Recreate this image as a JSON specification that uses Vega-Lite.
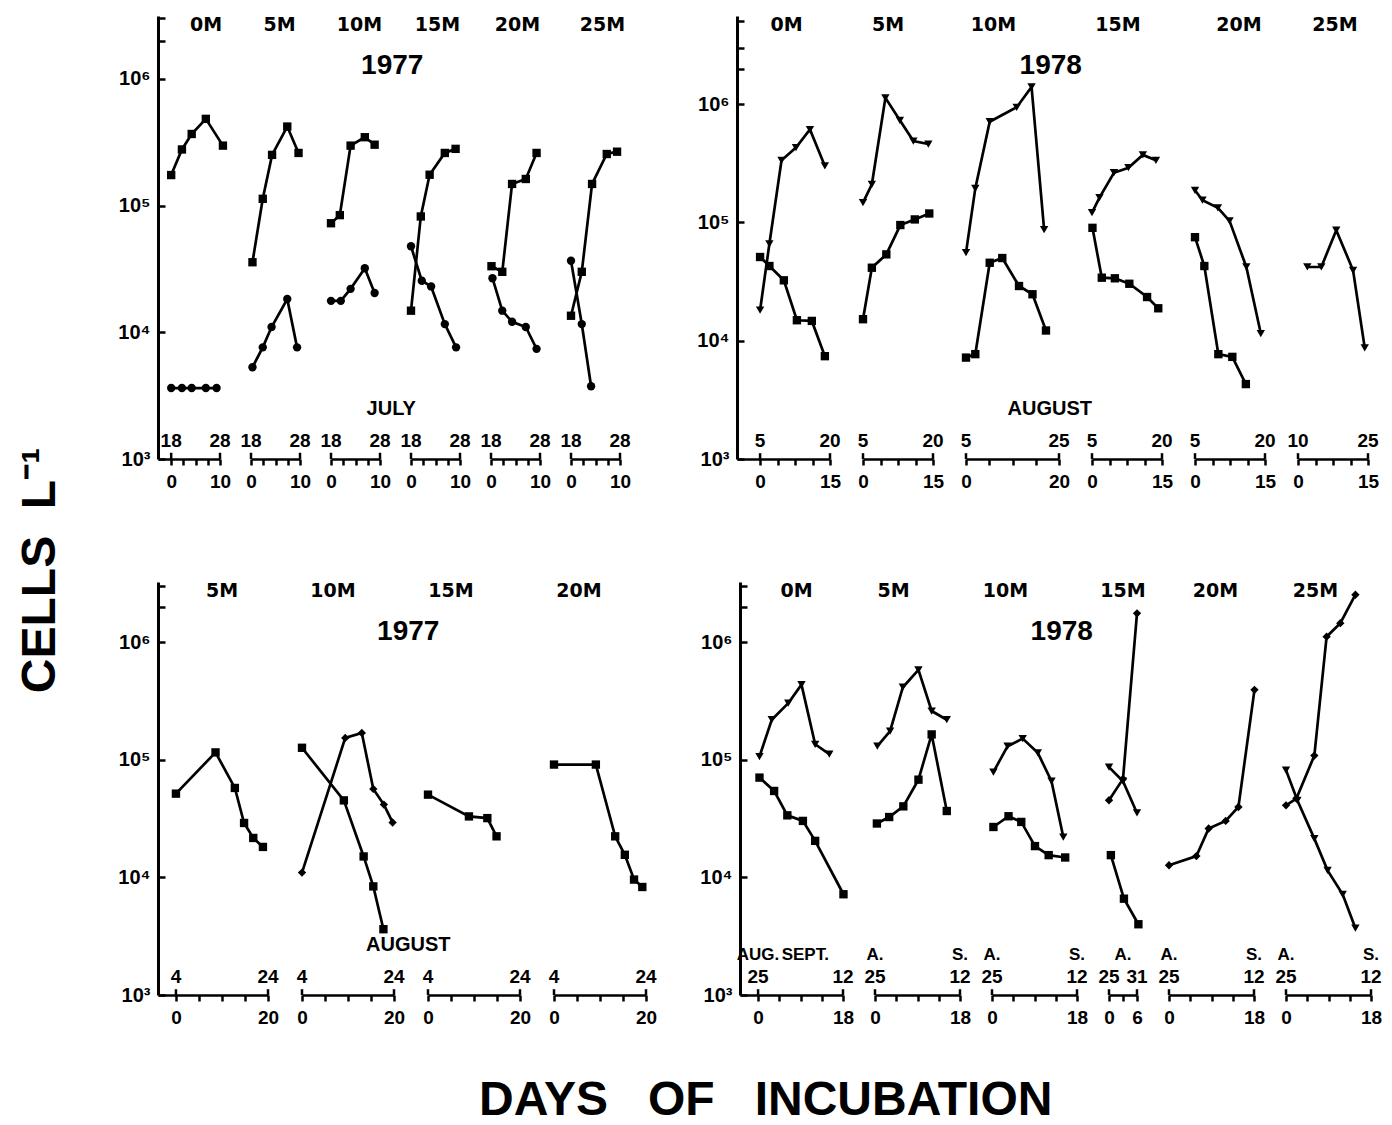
{
"$schema":"https://vega.github.io/schema/vega-lite/v6.json",
"background":"white",
"padding":{"left":16,"top":16,"right":5,"bottom":5},
"title":{"text":"CELLS\u00a0\u00a0L⁻¹","orient":"left","offset":15,"fontSize":48,"font":"Liberation Sans","fontWeight":"bold","frame":"bounds","anchor":"middle","baseline":"alphabetic"},
"datasets":{
"pts":[
{"q":"TL","depth":"0M","taxon":"b","day":0,"cells":174000},{"q":"TL","depth":"0M","taxon":"b","day":2.2,"cells":277000},{"q":"TL","depth":"0M","taxon":"b","day":4.2,"cells":367000},{"q":"TL","depth":"0M","taxon":"b","day":7.1,"cells":483000},{"q":"TL","depth":"0M","taxon":"b","day":10.6,"cells":297000},
{"q":"TL","depth":"0M","taxon":"a","day":0,"cells":3630},{"q":"TL","depth":"0M","taxon":"a","day":2.2,"cells":3630},{"q":"TL","depth":"0M","taxon":"a","day":4.2,"cells":3630},{"q":"TL","depth":"0M","taxon":"a","day":7.1,"cells":3630},{"q":"TL","depth":"0M","taxon":"a","day":9.3,"cells":3630},
{"q":"TL","depth":"5M","taxon":"b","day":0.3,"cells":35700},{"q":"TL","depth":"5M","taxon":"b","day":2.4,"cells":113000},{"q":"TL","depth":"5M","taxon":"b","day":4.3,"cells":251000},{"q":"TL","depth":"5M","taxon":"b","day":7.4,"cells":420000},{"q":"TL","depth":"5M","taxon":"b","day":9.7,"cells":260000},
{"q":"TL","depth":"5M","taxon":"a","day":0.3,"cells":5300},{"q":"TL","depth":"5M","taxon":"a","day":2.4,"cells":7600},{"q":"TL","depth":"5M","taxon":"a","day":4.2,"cells":11000},{"q":"TL","depth":"5M","taxon":"a","day":7.4,"cells":18300},{"q":"TL","depth":"5M","taxon":"a","day":9.4,"cells":7600},
{"q":"TL","depth":"10M","taxon":"b","day":0,"cells":72500},{"q":"TL","depth":"10M","taxon":"b","day":1.8,"cells":84000},{"q":"TL","depth":"10M","taxon":"b","day":4.0,"cells":297000},{"q":"TL","depth":"10M","taxon":"b","day":6.9,"cells":346000},{"q":"TL","depth":"10M","taxon":"b","day":8.9,"cells":302000},
{"q":"TL","depth":"10M","taxon":"a","day":0,"cells":17700},{"q":"TL","depth":"10M","taxon":"a","day":2.0,"cells":17700},{"q":"TL","depth":"10M","taxon":"a","day":4.0,"cells":22000},{"q":"TL","depth":"10M","taxon":"a","day":6.9,"cells":32000},{"q":"TL","depth":"10M","taxon":"a","day":8.9,"cells":20400},
{"q":"TL","depth":"15M","taxon":"b","day":0,"cells":14800},{"q":"TL","depth":"15M","taxon":"b","day":2.0,"cells":82000},{"q":"TL","depth":"15M","taxon":"b","day":3.8,"cells":175000},{"q":"TL","depth":"15M","taxon":"b","day":6.9,"cells":260000},{"q":"TL","depth":"15M","taxon":"b","day":9.1,"cells":280000},
{"q":"TL","depth":"15M","taxon":"a","day":0,"cells":47700},{"q":"TL","depth":"15M","taxon":"a","day":2.2,"cells":25500},{"q":"TL","depth":"15M","taxon":"a","day":4.1,"cells":23000},{"q":"TL","depth":"15M","taxon":"a","day":6.9,"cells":11600},{"q":"TL","depth":"15M","taxon":"a","day":9.2,"cells":7600},
{"q":"TL","depth":"20M","taxon":"b","day":0.1,"cells":33200},{"q":"TL","depth":"20M","taxon":"b","day":2.3,"cells":30000},{"q":"TL","depth":"20M","taxon":"b","day":4.3,"cells":148000},{"q":"TL","depth":"20M","taxon":"b","day":7.1,"cells":162000},{"q":"TL","depth":"20M","taxon":"b","day":9.3,"cells":260000},
{"q":"TL","depth":"20M","taxon":"a","day":0.3,"cells":26700},{"q":"TL","depth":"20M","taxon":"a","day":2.3,"cells":14800},{"q":"TL","depth":"20M","taxon":"a","day":4.3,"cells":12100},{"q":"TL","depth":"20M","taxon":"a","day":7.1,"cells":11000},{"q":"TL","depth":"20M","taxon":"a","day":9.3,"cells":7400},
{"q":"TL","depth":"25M","taxon":"b","day":0,"cells":13500},{"q":"TL","depth":"25M","taxon":"b","day":2.2,"cells":30000},{"q":"TL","depth":"25M","taxon":"b","day":4.3,"cells":148000},{"q":"TL","depth":"25M","taxon":"b","day":7.3,"cells":255000},{"q":"TL","depth":"25M","taxon":"b","day":9.4,"cells":266000},
{"q":"TL","depth":"25M","taxon":"a","day":0,"cells":36700},{"q":"TL","depth":"25M","taxon":"a","day":2.2,"cells":11600},{"q":"TL","depth":"25M","taxon":"a","day":4.1,"cells":3750},
{"q":"TR","depth":"0M","taxon":"c","day":0,"cells":18100},{"q":"TR","depth":"0M","taxon":"c","day":2.0,"cells":66000},{"q":"TR","depth":"0M","taxon":"c","day":4.6,"cells":335000},{"q":"TR","depth":"0M","taxon":"c","day":7.7,"cells":429000},{"q":"TR","depth":"0M","taxon":"c","day":10.7,"cells":610000},{"q":"TR","depth":"0M","taxon":"c","day":13.9,"cells":300000},
{"q":"TR","depth":"0M","taxon":"b","day":0,"cells":51000},{"q":"TR","depth":"0M","taxon":"b","day":2.0,"cells":42800},{"q":"TR","depth":"0M","taxon":"b","day":5.1,"cells":32400},{"q":"TR","depth":"0M","taxon":"b","day":7.9,"cells":14900},{"q":"TR","depth":"0M","taxon":"b","day":11.1,"cells":14700},{"q":"TR","depth":"0M","taxon":"b","day":13.9,"cells":7400},
{"q":"TR","depth":"5M","taxon":"c","day":0,"cells":147000},{"q":"TR","depth":"5M","taxon":"c","day":1.9,"cells":210000},{"q":"TR","depth":"5M","taxon":"c","day":4.8,"cells":1130000},{"q":"TR","depth":"5M","taxon":"c","day":7.9,"cells":730000},{"q":"TR","depth":"5M","taxon":"c","day":10.8,"cells":487000},{"q":"TR","depth":"5M","taxon":"c","day":14.0,"cells":460000},
{"q":"TR","depth":"5M","taxon":"b","day":0,"cells":15200},{"q":"TR","depth":"5M","taxon":"b","day":1.9,"cells":41400},{"q":"TR","depth":"5M","taxon":"b","day":5.0,"cells":53700},{"q":"TR","depth":"5M","taxon":"b","day":8.0,"cells":95000},{"q":"TR","depth":"5M","taxon":"b","day":11.1,"cells":106000},{"q":"TR","depth":"5M","taxon":"b","day":14.2,"cells":119000},
{"q":"TR","depth":"10M","taxon":"c","day":0,"cells":55500},{"q":"TR","depth":"10M","taxon":"c","day":2.0,"cells":194000},{"q":"TR","depth":"10M","taxon":"c","day":5.1,"cells":710000},{"q":"TR","depth":"10M","taxon":"c","day":10.9,"cells":940000},{"q":"TR","depth":"10M","taxon":"c","day":14.1,"cells":1400000},{"q":"TR","depth":"10M","taxon":"c","day":16.8,"cells":87000},
{"q":"TR","depth":"10M","taxon":"b","day":0,"cells":7200},{"q":"TR","depth":"10M","taxon":"b","day":2.0,"cells":7700},{"q":"TR","depth":"10M","taxon":"b","day":5.1,"cells":45600},{"q":"TR","depth":"10M","taxon":"b","day":7.8,"cells":50000},{"q":"TR","depth":"10M","taxon":"b","day":11.4,"cells":29000},{"q":"TR","depth":"10M","taxon":"b","day":14.3,"cells":24700},{"q":"TR","depth":"10M","taxon":"b","day":17.2,"cells":12200},
{"q":"TR","depth":"15M","taxon":"c","day":0,"cells":121000},{"q":"TR","depth":"15M","taxon":"c","day":1.6,"cells":162000},{"q":"TR","depth":"15M","taxon":"c","day":4.7,"cells":263000},{"q":"TR","depth":"15M","taxon":"c","day":7.8,"cells":290000},{"q":"TR","depth":"15M","taxon":"c","day":10.9,"cells":372000},{"q":"TR","depth":"15M","taxon":"c","day":13.7,"cells":335000},
{"q":"TR","depth":"15M","taxon":"b","day":0.1,"cells":90000},{"q":"TR","depth":"15M","taxon":"b","day":2.1,"cells":34100},{"q":"TR","depth":"15M","taxon":"b","day":4.9,"cells":33700},{"q":"TR","depth":"15M","taxon":"b","day":8.0,"cells":30300},{"q":"TR","depth":"15M","taxon":"b","day":11.8,"cells":23400},{"q":"TR","depth":"15M","taxon":"b","day":14.2,"cells":18800},
{"q":"TR","depth":"20M","taxon":"c","day":0,"cells":187000},{"q":"TR","depth":"20M","taxon":"c","day":1.6,"cells":154000},{"q":"TR","depth":"20M","taxon":"c","day":4.9,"cells":133000},{"q":"TR","depth":"20M","taxon":"c","day":7.4,"cells":103000},{"q":"TR","depth":"20M","taxon":"c","day":11.0,"cells":42000},{"q":"TR","depth":"20M","taxon":"c","day":14.1,"cells":11500},
{"q":"TR","depth":"20M","taxon":"b","day":0,"cells":75000},{"q":"TR","depth":"20M","taxon":"b","day":2.0,"cells":42800},{"q":"TR","depth":"20M","taxon":"b","day":5.0,"cells":7700},{"q":"TR","depth":"20M","taxon":"b","day":8.0,"cells":7300},{"q":"TR","depth":"20M","taxon":"b","day":10.9,"cells":4300},
{"q":"TR","depth":"25M","taxon":"c","day":2.0,"cells":42000},{"q":"TR","depth":"25M","taxon":"c","day":5.0,"cells":42000},{"q":"TR","depth":"25M","taxon":"c","day":8.2,"cells":86000},{"q":"TR","depth":"25M","taxon":"c","day":11.8,"cells":39400},{"q":"TR","depth":"25M","taxon":"c","day":14.3,"cells":8700},
{"q":"BL","depth":"5M","taxon":"b","day":0,"cells":51700},{"q":"BL","depth":"5M","taxon":"b","day":8.6,"cells":116000},{"q":"BL","depth":"5M","taxon":"b","day":12.8,"cells":57800},{"q":"BL","depth":"5M","taxon":"b","day":14.8,"cells":29100},{"q":"BL","depth":"5M","taxon":"b","day":16.8,"cells":21700},{"q":"BL","depth":"5M","taxon":"b","day":18.9,"cells":18200},
{"q":"BL","depth":"10M","taxon":"b","day":0,"cells":127000},{"q":"BL","depth":"10M","taxon":"b","day":9.1,"cells":45300},{"q":"BL","depth":"10M","taxon":"b","day":13.4,"cells":15100},{"q":"BL","depth":"10M","taxon":"b","day":15.5,"cells":8400},{"q":"BL","depth":"10M","taxon":"b","day":17.7,"cells":3630},
{"q":"BL","depth":"10M","taxon":"d","day":0,"cells":11000},{"q":"BL","depth":"10M","taxon":"d","day":9.4,"cells":154000},{"q":"BL","depth":"10M","taxon":"d","day":13.0,"cells":170000},{"q":"BL","depth":"10M","taxon":"d","day":15.5,"cells":56700},{"q":"BL","depth":"10M","taxon":"d","day":17.8,"cells":41700},{"q":"BL","depth":"10M","taxon":"d","day":19.7,"cells":29400},
{"q":"BL","depth":"15M","taxon":"b","day":0,"cells":50700},{"q":"BL","depth":"15M","taxon":"b","day":8.9,"cells":33100},{"q":"BL","depth":"15M","taxon":"b","day":12.9,"cells":32000},{"q":"BL","depth":"15M","taxon":"b","day":14.9,"cells":22400},
{"q":"BL","depth":"20M","taxon":"b","day":0,"cells":91400},{"q":"BL","depth":"20M","taxon":"b","day":9.1,"cells":91400},{"q":"BL","depth":"20M","taxon":"b","day":13.3,"cells":22400},{"q":"BL","depth":"20M","taxon":"b","day":15.4,"cells":15600},{"q":"BL","depth":"20M","taxon":"b","day":17.4,"cells":9600},{"q":"BL","depth":"20M","taxon":"b","day":19.2,"cells":8300},
{"q":"BR","depth":"0M","taxon":"c","day":0.3,"cells":107000},{"q":"BR","depth":"0M","taxon":"c","day":2.9,"cells":220000},{"q":"BR","depth":"0M","taxon":"c","day":6.4,"cells":304000},{"q":"BR","depth":"0M","taxon":"c","day":9.2,"cells":438000},{"q":"BR","depth":"0M","taxon":"c","day":12.1,"cells":136000},{"q":"BR","depth":"0M","taxon":"c","day":15.1,"cells":112000},
{"q":"BR","depth":"0M","taxon":"b","day":0.3,"cells":70800},{"q":"BR","depth":"0M","taxon":"b","day":3.4,"cells":54500},{"q":"BR","depth":"0M","taxon":"b","day":6.2,"cells":33800},{"q":"BR","depth":"0M","taxon":"b","day":9.5,"cells":30300},{"q":"BR","depth":"0M","taxon":"b","day":12.1,"cells":20500},{"q":"BR","depth":"0M","taxon":"b","day":18.1,"cells":7200},
{"q":"BR","depth":"5M","taxon":"c","day":0.5,"cells":131000},{"q":"BR","depth":"5M","taxon":"c","day":3.2,"cells":176000},{"q":"BR","depth":"5M","taxon":"c","day":5.9,"cells":416000},{"q":"BR","depth":"5M","taxon":"c","day":9.2,"cells":585000},{"q":"BR","depth":"5M","taxon":"c","day":12.0,"cells":261000},{"q":"BR","depth":"5M","taxon":"c","day":15.2,"cells":220000},
{"q":"BR","depth":"5M","taxon":"b","day":0.4,"cells":28800},{"q":"BR","depth":"5M","taxon":"b","day":3.0,"cells":32700},{"q":"BR","depth":"5M","taxon":"b","day":6.0,"cells":40300},{"q":"BR","depth":"5M","taxon":"b","day":9.2,"cells":68000},{"q":"BR","depth":"5M","taxon":"b","day":12.0,"cells":165000},{"q":"BR","depth":"5M","taxon":"b","day":15.2,"cells":36800},
{"q":"BR","depth":"10M","taxon":"c","day":0.3,"cells":79000},{"q":"BR","depth":"10M","taxon":"c","day":3.3,"cells":131000},{"q":"BR","depth":"10M","taxon":"c","day":6.5,"cells":152000},{"q":"BR","depth":"10M","taxon":"c","day":9.7,"cells":115000},{"q":"BR","depth":"10M","taxon":"c","day":12.6,"cells":66000},{"q":"BR","depth":"10M","taxon":"c","day":15.1,"cells":22100},
{"q":"BR","depth":"10M","taxon":"b","day":0.3,"cells":26900},{"q":"BR","depth":"10M","taxon":"b","day":3.5,"cells":33200},{"q":"BR","depth":"10M","taxon":"b","day":6.2,"cells":29700},{"q":"BR","depth":"10M","taxon":"b","day":9.1,"cells":18500},{"q":"BR","depth":"10M","taxon":"b","day":12.0,"cells":15500},{"q":"BR","depth":"10M","taxon":"b","day":15.5,"cells":14800},
{"q":"BR","depth":"15M","taxon":"c","day":0,"cells":87000},{"q":"BR","depth":"15M","taxon":"c","day":3,"cells":66000},{"q":"BR","depth":"15M","taxon":"c","day":6,"cells":35400},
{"q":"BR","depth":"15M","taxon":"d","day":0,"cells":45400},{"q":"BR","depth":"15M","taxon":"d","day":3,"cells":69000},{"q":"BR","depth":"15M","taxon":"d","day":6,"cells":1770000},
{"q":"BR","depth":"15M","taxon":"b","day":0.4,"cells":15500},{"q":"BR","depth":"15M","taxon":"b","day":3.2,"cells":6600},{"q":"BR","depth":"15M","taxon":"b","day":6.3,"cells":4000},
{"q":"BR","depth":"20M","taxon":"d","day":0,"cells":12700},{"q":"BR","depth":"20M","taxon":"d","day":5.8,"cells":15200},{"q":"BR","depth":"20M","taxon":"d","day":8.4,"cells":26100},{"q":"BR","depth":"20M","taxon":"d","day":12,"cells":30300},{"q":"BR","depth":"20M","taxon":"d","day":14.7,"cells":39800},{"q":"BR","depth":"20M","taxon":"d","day":18.1,"cells":395000},
{"q":"BR","depth":"25M","taxon":"d","day":0,"cells":41100},{"q":"BR","depth":"25M","taxon":"d","day":2.2,"cells":46900},{"q":"BR","depth":"25M","taxon":"d","day":6.0,"cells":109000},{"q":"BR","depth":"25M","taxon":"d","day":8.6,"cells":1120000},{"q":"BR","depth":"25M","taxon":"d","day":11.5,"cells":1460000},{"q":"BR","depth":"25M","taxon":"d","day":14.7,"cells":2550000},
{"q":"BR","depth":"25M","taxon":"c","day":0,"cells":82000},{"q":"BR","depth":"25M","taxon":"c","day":2.4,"cells":45400},{"q":"BR","depth":"25M","taxon":"c","day":6.0,"cells":21400},{"q":"BR","depth":"25M","taxon":"c","day":8.8,"cells":11500},{"q":"BR","depth":"25M","taxon":"c","day":12.0,"cells":7200},{"q":"BR","depth":"25M","taxon":"c","day":14.7,"cells":3700}
],
"dates":[
{"q":"TL","depth":"0M","day":0,"label":"18"},{"q":"TL","depth":"0M","day":10,"label":"28"},
{"q":"TL","depth":"5M","day":0,"label":"18"},{"q":"TL","depth":"5M","day":10,"label":"28"},
{"q":"TL","depth":"10M","day":0,"label":"18"},{"q":"TL","depth":"10M","day":10,"label":"28"},
{"q":"TL","depth":"15M","day":0,"label":"18"},{"q":"TL","depth":"15M","day":10,"label":"28"},
{"q":"TL","depth":"20M","day":0,"label":"18"},{"q":"TL","depth":"20M","day":10,"label":"28"},
{"q":"TL","depth":"25M","day":0,"label":"18"},{"q":"TL","depth":"25M","day":10,"label":"28"},
{"q":"TR","depth":"0M","day":0,"label":"5"},{"q":"TR","depth":"0M","day":15,"label":"20"},
{"q":"TR","depth":"5M","day":0,"label":"5"},{"q":"TR","depth":"5M","day":15,"label":"20"},
{"q":"TR","depth":"10M","day":0,"label":"5"},{"q":"TR","depth":"10M","day":20,"label":"25"},
{"q":"TR","depth":"15M","day":0,"label":"5"},{"q":"TR","depth":"15M","day":15,"label":"20"},
{"q":"TR","depth":"20M","day":0,"label":"5"},{"q":"TR","depth":"20M","day":15,"label":"20"},
{"q":"TR","depth":"25M","day":0,"label":"10"},{"q":"TR","depth":"25M","day":15,"label":"25"},
{"q":"BL","depth":"5M","day":0,"label":"4"},{"q":"BL","depth":"5M","day":20,"label":"24"},
{"q":"BL","depth":"10M","day":0,"label":"4"},{"q":"BL","depth":"10M","day":20,"label":"24"},
{"q":"BL","depth":"15M","day":0,"label":"4"},{"q":"BL","depth":"15M","day":20,"label":"24"},
{"q":"BL","depth":"20M","day":0,"label":"4"},{"q":"BL","depth":"20M","day":20,"label":"24"},
{"q":"BR","depth":"0M","day":0,"label":"25"},{"q":"BR","depth":"0M","day":18,"label":"12"},
{"q":"BR","depth":"5M","day":0,"label":"25"},{"q":"BR","depth":"5M","day":18,"label":"12"},
{"q":"BR","depth":"10M","day":0,"label":"25"},{"q":"BR","depth":"10M","day":18,"label":"12"},
{"q":"BR","depth":"15M","day":0,"label":"25"},{"q":"BR","depth":"15M","day":6,"label":"31"},
{"q":"BR","depth":"20M","day":0,"label":"25"},{"q":"BR","depth":"20M","day":18,"label":"12"},
{"q":"BR","depth":"25M","day":0,"label":"25"},{"q":"BR","depth":"25M","day":18,"label":"12"}
],
"months":[
{"q":"BR","depth":"0M","day":0,"label":"AUG."},{"q":"BR","depth":"0M","day":10,"label":"SEPT."},
{"q":"BR","depth":"5M","day":0,"label":"A."},{"q":"BR","depth":"5M","day":18,"label":"S."},
{"q":"BR","depth":"10M","day":0,"label":"A."},{"q":"BR","depth":"10M","day":18,"label":"S."},
{"q":"BR","depth":"15M","day":3,"label":"A."},
{"q":"BR","depth":"20M","day":0,"label":"A."},{"q":"BR","depth":"20M","day":18,"label":"S."},
{"q":"BR","depth":"25M","day":0,"label":"A."},{"q":"BR","depth":"25M","day":18,"label":"S."}
]
},
"hconcat":[{
"title":{"text":"DAYS\u00a0\u00a0\u00a0OF\u00a0\u00a0\u00a0INCUBATION","orient":"bottom","offset":88,"fontSize":48,"font":"Liberation Sans","fontWeight":"bold","frame":"bounds","anchor":"middle","dx":16,"baseline":"alphabetic"},
"spacing":91,
"vconcat":[
{"spacing":65,"hconcat":[
{"title":{"text":"1977","offset":-86,"fontSize":28,"font":"Liberation Sans","frame":"bounds","anchor":"middle","dx":18,"baseline":"alphabetic"},
"hconcat":[{"title":{"text":"JULY","orient":"bottom","offset":-76,"fontSize":20,"font":"Liberation Sans","frame":"bounds","anchor":"middle","dx":17,"baseline":"alphabetic"},
"spacing":31,"bounds":"flush",
"hconcat":[
{"width":62,"height":443,"title":{"text":"0M","dx":17},
"encoding":{"x":{"field":"day","type":"quantitative","scale":{"domain":[-2.7,10],"nice":false,"zero":false},"axis":{"values":[0,2.5,5,7.5,10],"title":null,"labelExpr":"datum.value==0||datum.value==10?datum.label:''"}}},
"layer":[
{"data":{"name":"pts"},"transform":[{"filter":"datum.q=='TL'&&datum.depth=='0M'"}],"mark":{"type":"line","color":"black","strokeWidth":2.7},"encoding":{"y":{"field":"cells","type":"quantitative","scale":{"type":"log","domain":[1000,3130000],"nice":false},"axis":{"values":[1000,10000,100000,1000000,2000000,3000000],"title":null,"labelFontSize":{"condition":{"test":"datum.value>1000000","value":1},"value":20},"labelExpr":"datum.value==1000?'10³':datum.value==10000?'10⁴':datum.value==100000?'10⁵':datum.value==1000000?'10⁶':''"}},"detail":{"field":"taxon"}}},
{"data":{"name":"pts"},"transform":[{"filter":"datum.q=='TL'&&datum.depth=='0M'"}],"mark":{"type":"point","filled":true,"opacity":1,"color":"black","size":70},"encoding":{"y":{"field":"cells","type":"quantitative"},"shape":{"field":"taxon","type":"nominal","scale":{"domain":["a","b","c","d"],"range":["circle","square","triangle-down","diamond"]},"legend":null}}},
{"data":{"name":"dates"},"transform":[{"filter":"datum.q=='TL'&&datum.depth=='0M'"}],"mark":{"type":"text","dy":-12},"encoding":{"y":{"datum":1000},"text":{"field":"label"}}},
{"data":{"name":"dates"},"transform":[{"filter":"datum.q=='TL'&&datum.depth=='0M'"}],"mark":{"type":"rule","color":"black","strokeWidth":2.5},"encoding":{"y":{"datum":1000},"y2":{"datum":1120}}}
]},
{"width":49,"height":443,"title":{"text":"5M","dx":4},
"encoding":{"x":{"field":"day","type":"quantitative","scale":{"domain":[0,10],"nice":false,"zero":false},"axis":{"values":[0,2.5,5,7.5,10],"title":null,"labelExpr":"datum.value==0||datum.value==10?datum.label:''"}}},
"layer":[
{"data":{"name":"pts"},"transform":[{"filter":"datum.q=='TL'&&datum.depth=='5M'"}],"mark":{"type":"line","color":"black","strokeWidth":2.7},"encoding":{"y":{"field":"cells","type":"quantitative","scale":{"type":"log","domain":[1000,3130000],"nice":false},"axis":null},"detail":{"field":"taxon"}}},
{"data":{"name":"pts"},"transform":[{"filter":"datum.q=='TL'&&datum.depth=='5M'"}],"mark":{"type":"point","filled":true,"opacity":1,"color":"black","size":70},"encoding":{"y":{"field":"cells","type":"quantitative"},"shape":{"field":"taxon","type":"nominal","scale":{"domain":["a","b","c","d"],"range":["circle","square","triangle-down","diamond"]},"legend":null}}},
{"data":{"name":"dates"},"transform":[{"filter":"datum.q=='TL'&&datum.depth=='5M'"}],"mark":{"type":"text","dy":-12},"encoding":{"y":{"datum":1000},"text":{"field":"label"}}},
{"data":{"name":"dates"},"transform":[{"filter":"datum.q=='TL'&&datum.depth=='5M'"}],"mark":{"type":"rule","color":"black","strokeWidth":2.5},"encoding":{"y":{"datum":1000},"y2":{"datum":1120}}}
]},
{"width":49,"height":443,"title":{"text":"10M","dx":4},
"encoding":{"x":{"field":"day","type":"quantitative","scale":{"domain":[0,10],"nice":false,"zero":false},"axis":{"values":[0,2.5,5,7.5,10],"title":null,"labelExpr":"datum.value==0||datum.value==10?datum.label:''"}}},
"layer":[
{"data":{"name":"pts"},"transform":[{"filter":"datum.q=='TL'&&datum.depth=='10M'"}],"mark":{"type":"line","color":"black","strokeWidth":2.7},"encoding":{"y":{"field":"cells","type":"quantitative","scale":{"type":"log","domain":[1000,3130000],"nice":false},"axis":null},"detail":{"field":"taxon"}}},
{"data":{"name":"pts"},"transform":[{"filter":"datum.q=='TL'&&datum.depth=='10M'"}],"mark":{"type":"point","filled":true,"opacity":1,"color":"black","size":70},"encoding":{"y":{"field":"cells","type":"quantitative"},"shape":{"field":"taxon","type":"nominal","scale":{"domain":["a","b","c","d"],"range":["circle","square","triangle-down","diamond"]},"legend":null}}},
{"data":{"name":"dates"},"transform":[{"filter":"datum.q=='TL'&&datum.depth=='10M'"}],"mark":{"type":"text","dy":-12},"encoding":{"y":{"datum":1000},"text":{"field":"label"}}},
{"data":{"name":"dates"},"transform":[{"filter":"datum.q=='TL'&&datum.depth=='10M'"}],"mark":{"type":"rule","color":"black","strokeWidth":2.5},"encoding":{"y":{"datum":1000},"y2":{"datum":1120}}}
]},
{"width":49,"height":443,"title":{"text":"15M","dx":2},
"encoding":{"x":{"field":"day","type":"quantitative","scale":{"domain":[0,10],"nice":false,"zero":false},"axis":{"values":[0,2.5,5,7.5,10],"title":null,"labelExpr":"datum.value==0||datum.value==10?datum.label:''"}}},
"layer":[
{"data":{"name":"pts"},"transform":[{"filter":"datum.q=='TL'&&datum.depth=='15M'"}],"mark":{"type":"line","color":"black","strokeWidth":2.7},"encoding":{"y":{"field":"cells","type":"quantitative","scale":{"type":"log","domain":[1000,3130000],"nice":false},"axis":null},"detail":{"field":"taxon"}}},
{"data":{"name":"pts"},"transform":[{"filter":"datum.q=='TL'&&datum.depth=='15M'"}],"mark":{"type":"point","filled":true,"opacity":1,"color":"black","size":70},"encoding":{"y":{"field":"cells","type":"quantitative"},"shape":{"field":"taxon","type":"nominal","scale":{"domain":["a","b","c","d"],"range":["circle","square","triangle-down","diamond"]},"legend":null}}},
{"data":{"name":"dates"},"transform":[{"filter":"datum.q=='TL'&&datum.depth=='15M'"}],"mark":{"type":"text","dy":-12},"encoding":{"y":{"datum":1000},"text":{"field":"label"}}},
{"data":{"name":"dates"},"transform":[{"filter":"datum.q=='TL'&&datum.depth=='15M'"}],"mark":{"type":"rule","color":"black","strokeWidth":2.5},"encoding":{"y":{"datum":1000},"y2":{"datum":1120}}}
]},
{"width":49,"height":443,"title":{"text":"20M","dx":2},
"encoding":{"x":{"field":"day","type":"quantitative","scale":{"domain":[0,10],"nice":false,"zero":false},"axis":{"values":[0,2.5,5,7.5,10],"title":null,"labelExpr":"datum.value==0||datum.value==10?datum.label:''"}}},
"layer":[
{"data":{"name":"pts"},"transform":[{"filter":"datum.q=='TL'&&datum.depth=='20M'"}],"mark":{"type":"line","color":"black","strokeWidth":2.7},"encoding":{"y":{"field":"cells","type":"quantitative","scale":{"type":"log","domain":[1000,3130000],"nice":false},"axis":null},"detail":{"field":"taxon"}}},
{"data":{"name":"pts"},"transform":[{"filter":"datum.q=='TL'&&datum.depth=='20M'"}],"mark":{"type":"point","filled":true,"opacity":1,"color":"black","size":70},"encoding":{"y":{"field":"cells","type":"quantitative"},"shape":{"field":"taxon","type":"nominal","scale":{"domain":["a","b","c","d"],"range":["circle","square","triangle-down","diamond"]},"legend":null}}},
{"data":{"name":"dates"},"transform":[{"filter":"datum.q=='TL'&&datum.depth=='20M'"}],"mark":{"type":"text","dy":-12},"encoding":{"y":{"datum":1000},"text":{"field":"label"}}},
{"data":{"name":"dates"},"transform":[{"filter":"datum.q=='TL'&&datum.depth=='20M'"}],"mark":{"type":"rule","color":"black","strokeWidth":2.5},"encoding":{"y":{"datum":1000},"y2":{"datum":1120}}}
]},
{"width":49,"height":443,"title":{"text":"25M","dx":7},
"encoding":{"x":{"field":"day","type":"quantitative","scale":{"domain":[0,10],"nice":false,"zero":false},"axis":{"values":[0,2.5,5,7.5,10],"title":null,"labelExpr":"datum.value==0||datum.value==10?datum.label:''"}}},
"layer":[
{"data":{"name":"pts"},"transform":[{"filter":"datum.q=='TL'&&datum.depth=='25M'"}],"mark":{"type":"line","color":"black","strokeWidth":2.7},"encoding":{"y":{"field":"cells","type":"quantitative","scale":{"type":"log","domain":[1000,3130000],"nice":false},"axis":null},"detail":{"field":"taxon"}}},
{"data":{"name":"pts"},"transform":[{"filter":"datum.q=='TL'&&datum.depth=='25M'"}],"mark":{"type":"point","filled":true,"opacity":1,"color":"black","size":70},"encoding":{"y":{"field":"cells","type":"quantitative"},"shape":{"field":"taxon","type":"nominal","scale":{"domain":["a","b","c","d"],"range":["circle","square","triangle-down","diamond"]},"legend":null}}},
{"data":{"name":"dates"},"transform":[{"filter":"datum.q=='TL'&&datum.depth=='25M'"}],"mark":{"type":"text","dy":-12},"encoding":{"y":{"datum":1000},"text":{"field":"label"}}},
{"data":{"name":"dates"},"transform":[{"filter":"datum.q=='TL'&&datum.depth=='25M'"}],"mark":{"type":"rule","color":"black","strokeWidth":2.5},"encoding":{"y":{"datum":1000},"y2":{"datum":1120}}}
]}
]}]},
{"title":{"text":"1978","offset":-86,"fontSize":28,"font":"Liberation Sans","frame":"bounds","anchor":"middle","dx":13,"baseline":"alphabetic"},
"hconcat":[{"title":{"text":"AUGUST","orient":"bottom","offset":-76,"fontSize":20,"font":"Liberation Sans","frame":"bounds","anchor":"middle","dx":12,"baseline":"alphabetic"},
"spacing":33,"bounds":"flush",
"hconcat":[
{"width":93,"height":443,"title":{"text":"0M","dx":3},
"encoding":{"x":{"field":"day","type":"quantitative","scale":{"domain":[-4.95,15],"nice":false,"zero":false},"axis":{"values":[0,3.75,7.5,11.25,15],"title":null,"labelExpr":"datum.value==0||datum.value==15?datum.label:''"}}},
"layer":[
{"data":{"name":"pts"},"transform":[{"filter":"datum.q=='TR'&&datum.depth=='0M'"}],"mark":{"type":"line","color":"black","strokeWidth":2.7},"encoding":{"y":{"field":"cells","type":"quantitative","scale":{"type":"log","domain":[1000,5560000],"nice":false},"axis":{"values":[1000,10000,100000,1000000,2000000,3000000,5000000],"title":null,"labelFontSize":{"condition":{"test":"datum.value>1000000","value":1},"value":20},"labelExpr":"datum.value==1000?'10³':datum.value==10000?'10⁴':datum.value==100000?'10⁵':datum.value==1000000?'10⁶':''"}},"detail":{"field":"taxon"}}},
{"data":{"name":"pts"},"transform":[{"filter":"datum.q=='TR'&&datum.depth=='0M'"}],"mark":{"type":"point","filled":true,"opacity":1,"color":"black","size":70},"encoding":{"y":{"field":"cells","type":"quantitative"},"shape":{"field":"taxon","type":"nominal","scale":{"domain":["a","b","c","d"],"range":["circle","square","triangle-down","diamond"]},"legend":null}}},
{"data":{"name":"dates"},"transform":[{"filter":"datum.q=='TR'&&datum.depth=='0M'"}],"mark":{"type":"text","dy":-12},"encoding":{"y":{"datum":1000},"text":{"field":"label"}}},
{"data":{"name":"dates"},"transform":[{"filter":"datum.q=='TR'&&datum.depth=='0M'"}],"mark":{"type":"rule","color":"black","strokeWidth":2.5},"encoding":{"y":{"datum":1000},"y2":{"datum":1120}}}
]},
{"width":70,"height":443,"title":{"text":"5M","dx":-10},
"encoding":{"x":{"field":"day","type":"quantitative","scale":{"domain":[0,15],"nice":false,"zero":false},"axis":{"values":[0,3.75,7.5,11.25,15],"title":null,"labelExpr":"datum.value==0||datum.value==15?datum.label:''"}}},
"layer":[
{"data":{"name":"pts"},"transform":[{"filter":"datum.q=='TR'&&datum.depth=='5M'"}],"mark":{"type":"line","color":"black","strokeWidth":2.7},"encoding":{"y":{"field":"cells","type":"quantitative","scale":{"type":"log","domain":[1000,5560000],"nice":false},"axis":null},"detail":{"field":"taxon"}}},
{"data":{"name":"pts"},"transform":[{"filter":"datum.q=='TR'&&datum.depth=='5M'"}],"mark":{"type":"point","filled":true,"opacity":1,"color":"black","size":70},"encoding":{"y":{"field":"cells","type":"quantitative"},"shape":{"field":"taxon","type":"nominal","scale":{"domain":["a","b","c","d"],"range":["circle","square","triangle-down","diamond"]},"legend":null}}},
{"data":{"name":"dates"},"transform":[{"filter":"datum.q=='TR'&&datum.depth=='5M'"}],"mark":{"type":"text","dy":-12},"encoding":{"y":{"datum":1000},"text":{"field":"label"}}},
{"data":{"name":"dates"},"transform":[{"filter":"datum.q=='TR'&&datum.depth=='5M'"}],"mark":{"type":"rule","color":"black","strokeWidth":2.5},"encoding":{"y":{"datum":1000},"y2":{"datum":1120}}}
]},
{"width":93,"height":443,"title":{"text":"10M","dx":-19},
"encoding":{"x":{"field":"day","type":"quantitative","scale":{"domain":[0,20],"nice":false,"zero":false},"axis":{"values":[0,5,10,15,20],"title":null,"labelExpr":"datum.value==0||datum.value==20?datum.label:''"}}},
"layer":[
{"data":{"name":"pts"},"transform":[{"filter":"datum.q=='TR'&&datum.depth=='10M'"}],"mark":{"type":"line","color":"black","strokeWidth":2.7},"encoding":{"y":{"field":"cells","type":"quantitative","scale":{"type":"log","domain":[1000,5560000],"nice":false},"axis":null},"detail":{"field":"taxon"}}},
{"data":{"name":"pts"},"transform":[{"filter":"datum.q=='TR'&&datum.depth=='10M'"}],"mark":{"type":"point","filled":true,"opacity":1,"color":"black","size":70},"encoding":{"y":{"field":"cells","type":"quantitative"},"shape":{"field":"taxon","type":"nominal","scale":{"domain":["a","b","c","d"],"range":["circle","square","triangle-down","diamond"]},"legend":null}}},
{"data":{"name":"dates"},"transform":[{"filter":"datum.q=='TR'&&datum.depth=='10M'"}],"mark":{"type":"text","dy":-12},"encoding":{"y":{"datum":1000},"text":{"field":"label"}}},
{"data":{"name":"dates"},"transform":[{"filter":"datum.q=='TR'&&datum.depth=='10M'"}],"mark":{"type":"rule","color":"black","strokeWidth":2.5},"encoding":{"y":{"datum":1000},"y2":{"datum":1120}}}
]},
{"width":70,"height":443,"title":{"text":"15M","dx":-9},
"encoding":{"x":{"field":"day","type":"quantitative","scale":{"domain":[0,15],"nice":false,"zero":false},"axis":{"values":[0,3.75,7.5,11.25,15],"title":null,"labelExpr":"datum.value==0||datum.value==15?datum.label:''"}}},
"layer":[
{"data":{"name":"pts"},"transform":[{"filter":"datum.q=='TR'&&datum.depth=='15M'"}],"mark":{"type":"line","color":"black","strokeWidth":2.7},"encoding":{"y":{"field":"cells","type":"quantitative","scale":{"type":"log","domain":[1000,5560000],"nice":false},"axis":null},"detail":{"field":"taxon"}}},
{"data":{"name":"pts"},"transform":[{"filter":"datum.q=='TR'&&datum.depth=='15M'"}],"mark":{"type":"point","filled":true,"opacity":1,"color":"black","size":70},"encoding":{"y":{"field":"cells","type":"quantitative"},"shape":{"field":"taxon","type":"nominal","scale":{"domain":["a","b","c","d"],"range":["circle","square","triangle-down","diamond"]},"legend":null}}},
{"data":{"name":"dates"},"transform":[{"filter":"datum.q=='TR'&&datum.depth=='15M'"}],"mark":{"type":"text","dy":-12},"encoding":{"y":{"datum":1000},"text":{"field":"label"}}},
{"data":{"name":"dates"},"transform":[{"filter":"datum.q=='TR'&&datum.depth=='15M'"}],"mark":{"type":"rule","color":"black","strokeWidth":2.5},"encoding":{"y":{"datum":1000},"y2":{"datum":1120}}}
]},
{"width":70,"height":443,"title":{"text":"20M","dx":9},
"encoding":{"x":{"field":"day","type":"quantitative","scale":{"domain":[0,15],"nice":false,"zero":false},"axis":{"values":[0,3.75,7.5,11.25,15],"title":null,"labelExpr":"datum.value==0||datum.value==15?datum.label:''"}}},
"layer":[
{"data":{"name":"pts"},"transform":[{"filter":"datum.q=='TR'&&datum.depth=='20M'"}],"mark":{"type":"line","color":"black","strokeWidth":2.7},"encoding":{"y":{"field":"cells","type":"quantitative","scale":{"type":"log","domain":[1000,5560000],"nice":false},"axis":null},"detail":{"field":"taxon"}}},
{"data":{"name":"pts"},"transform":[{"filter":"datum.q=='TR'&&datum.depth=='20M'"}],"mark":{"type":"point","filled":true,"opacity":1,"color":"black","size":70},"encoding":{"y":{"field":"cells","type":"quantitative"},"shape":{"field":"taxon","type":"nominal","scale":{"domain":["a","b","c","d"],"range":["circle","square","triangle-down","diamond"]},"legend":null}}},
{"data":{"name":"dates"},"transform":[{"filter":"datum.q=='TR'&&datum.depth=='20M'"}],"mark":{"type":"text","dy":-12},"encoding":{"y":{"datum":1000},"text":{"field":"label"}}},
{"data":{"name":"dates"},"transform":[{"filter":"datum.q=='TR'&&datum.depth=='20M'"}],"mark":{"type":"rule","color":"black","strokeWidth":2.5},"encoding":{"y":{"datum":1000},"y2":{"datum":1120}}}
]},
{"width":70,"height":443,"title":{"text":"25M","dx":2},
"encoding":{"x":{"field":"day","type":"quantitative","scale":{"domain":[0,15],"nice":false,"zero":false},"axis":{"values":[0,3.75,7.5,11.25,15],"title":null,"labelExpr":"datum.value==0||datum.value==15?datum.label:''"}}},
"layer":[
{"data":{"name":"pts"},"transform":[{"filter":"datum.q=='TR'&&datum.depth=='25M'"}],"mark":{"type":"line","color":"black","strokeWidth":2.7},"encoding":{"y":{"field":"cells","type":"quantitative","scale":{"type":"log","domain":[1000,5560000],"nice":false},"axis":null},"detail":{"field":"taxon"}}},
{"data":{"name":"pts"},"transform":[{"filter":"datum.q=='TR'&&datum.depth=='25M'"}],"mark":{"type":"point","filled":true,"opacity":1,"color":"black","size":70},"encoding":{"y":{"field":"cells","type":"quantitative"},"shape":{"field":"taxon","type":"nominal","scale":{"domain":["a","b","c","d"],"range":["circle","square","triangle-down","diamond"]},"legend":null}}},
{"data":{"name":"dates"},"transform":[{"filter":"datum.q=='TR'&&datum.depth=='25M'"}],"mark":{"type":"text","dy":-12},"encoding":{"y":{"datum":1000},"text":{"field":"label"}}},
{"data":{"name":"dates"},"transform":[{"filter":"datum.q=='TR'&&datum.depth=='25M'"}],"mark":{"type":"rule","color":"black","strokeWidth":2.5},"encoding":{"y":{"datum":1000},"y2":{"datum":1120}}}
]}
]}]}
]},
{"spacing":42,"hconcat":[
{"title":{"text":"1977","offset":-86,"fontSize":28,"font":"Liberation Sans","frame":"bounds","anchor":"middle","dx":21,"baseline":"alphabetic"},
"hconcat":[{"title":{"text":"AUGUST","orient":"bottom","offset":-76,"fontSize":20,"font":"Liberation Sans","frame":"bounds","anchor":"middle","dx":21,"baseline":"alphabetic"},
"spacing":34,"bounds":"flush",
"hconcat":[
{"width":110,"height":413,"title":{"text":"5M","dx":9},
"encoding":{"x":{"field":"day","type":"quantitative","scale":{"domain":[-3.9,20],"nice":false,"zero":false},"axis":{"values":[0,5,10,15,20],"title":null,"labelExpr":"datum.value==0||datum.value==20?datum.label:''"}}},
"layer":[
{"data":{"name":"pts"},"transform":[{"filter":"datum.q=='BL'&&datum.depth=='5M'"}],"mark":{"type":"line","color":"black","strokeWidth":2.7},"encoding":{"y":{"field":"cells","type":"quantitative","scale":{"type":"log","domain":[1000,3270000],"nice":false},"axis":{"values":[1000,10000,100000,1000000,2000000,3000000],"title":null,"labelFontSize":{"condition":{"test":"datum.value>1000000","value":1},"value":20},"labelExpr":"datum.value==1000?'10³':datum.value==10000?'10⁴':datum.value==100000?'10⁵':datum.value==1000000?'10⁶':''"}},"detail":{"field":"taxon"}}},
{"data":{"name":"pts"},"transform":[{"filter":"datum.q=='BL'&&datum.depth=='5M'"}],"mark":{"type":"point","filled":true,"opacity":1,"color":"black","size":70},"encoding":{"y":{"field":"cells","type":"quantitative"},"shape":{"field":"taxon","type":"nominal","scale":{"domain":["a","b","c","d"],"range":["circle","square","triangle-down","diamond"]},"legend":null}}},
{"data":{"name":"dates"},"transform":[{"filter":"datum.q=='BL'&&datum.depth=='5M'"}],"mark":{"type":"text","dy":-12},"encoding":{"y":{"datum":1000},"text":{"field":"label"}}},
{"data":{"name":"dates"},"transform":[{"filter":"datum.q=='BL'&&datum.depth=='5M'"}],"mark":{"type":"rule","color":"black","strokeWidth":2.5},"encoding":{"y":{"datum":1000},"y2":{"datum":1120}}}
]},
{"width":92,"height":413,"title":{"text":"10M","dx":-15},
"encoding":{"x":{"field":"day","type":"quantitative","scale":{"domain":[0,20],"nice":false,"zero":false},"axis":{"values":[0,5,10,15,20],"title":null,"labelExpr":"datum.value==0||datum.value==20?datum.label:''"}}},
"layer":[
{"data":{"name":"pts"},"transform":[{"filter":"datum.q=='BL'&&datum.depth=='10M'"}],"mark":{"type":"line","color":"black","strokeWidth":2.7},"encoding":{"y":{"field":"cells","type":"quantitative","scale":{"type":"log","domain":[1000,3270000],"nice":false},"axis":null},"detail":{"field":"taxon"}}},
{"data":{"name":"pts"},"transform":[{"filter":"datum.q=='BL'&&datum.depth=='10M'"}],"mark":{"type":"point","filled":true,"opacity":1,"color":"black","size":70},"encoding":{"y":{"field":"cells","type":"quantitative"},"shape":{"field":"taxon","type":"nominal","scale":{"domain":["a","b","c","d"],"range":["circle","square","triangle-down","diamond"]},"legend":null}}},
{"data":{"name":"dates"},"transform":[{"filter":"datum.q=='BL'&&datum.depth=='10M'"}],"mark":{"type":"text","dy":-12},"encoding":{"y":{"datum":1000},"text":{"field":"label"}}},
{"data":{"name":"dates"},"transform":[{"filter":"datum.q=='BL'&&datum.depth=='10M'"}],"mark":{"type":"rule","color":"black","strokeWidth":2.5},"encoding":{"y":{"datum":1000},"y2":{"datum":1120}}}
]},
{"width":92,"height":413,"title":{"text":"15M","dx":-23},
"encoding":{"x":{"field":"day","type":"quantitative","scale":{"domain":[0,20],"nice":false,"zero":false},"axis":{"values":[0,5,10,15,20],"title":null,"labelExpr":"datum.value==0||datum.value==20?datum.label:''"}}},
"layer":[
{"data":{"name":"pts"},"transform":[{"filter":"datum.q=='BL'&&datum.depth=='15M'"}],"mark":{"type":"line","color":"black","strokeWidth":2.7},"encoding":{"y":{"field":"cells","type":"quantitative","scale":{"type":"log","domain":[1000,3270000],"nice":false},"axis":null},"detail":{"field":"taxon"}}},
{"data":{"name":"pts"},"transform":[{"filter":"datum.q=='BL'&&datum.depth=='15M'"}],"mark":{"type":"point","filled":true,"opacity":1,"color":"black","size":70},"encoding":{"y":{"field":"cells","type":"quantitative"},"shape":{"field":"taxon","type":"nominal","scale":{"domain":["a","b","c","d"],"range":["circle","square","triangle-down","diamond"]},"legend":null}}},
{"data":{"name":"dates"},"transform":[{"filter":"datum.q=='BL'&&datum.depth=='15M'"}],"mark":{"type":"text","dy":-12},"encoding":{"y":{"datum":1000},"text":{"field":"label"}}},
{"data":{"name":"dates"},"transform":[{"filter":"datum.q=='BL'&&datum.depth=='15M'"}],"mark":{"type":"rule","color":"black","strokeWidth":2.5},"encoding":{"y":{"datum":1000},"y2":{"datum":1120}}}
]},
{"width":92,"height":413,"title":{"text":"20M","dx":-21},
"encoding":{"x":{"field":"day","type":"quantitative","scale":{"domain":[0,20],"nice":false,"zero":false},"axis":{"values":[0,5,10,15,20],"title":null,"labelExpr":"datum.value==0||datum.value==20?datum.label:''"}}},
"layer":[
{"data":{"name":"pts"},"transform":[{"filter":"datum.q=='BL'&&datum.depth=='20M'"}],"mark":{"type":"line","color":"black","strokeWidth":2.7},"encoding":{"y":{"field":"cells","type":"quantitative","scale":{"type":"log","domain":[1000,3270000],"nice":false},"axis":null},"detail":{"field":"taxon"}}},
{"data":{"name":"pts"},"transform":[{"filter":"datum.q=='BL'&&datum.depth=='20M'"}],"mark":{"type":"point","filled":true,"opacity":1,"color":"black","size":70},"encoding":{"y":{"field":"cells","type":"quantitative"},"shape":{"field":"taxon","type":"nominal","scale":{"domain":["a","b","c","d"],"range":["circle","square","triangle-down","diamond"]},"legend":null}}},
{"data":{"name":"dates"},"transform":[{"filter":"datum.q=='BL'&&datum.depth=='20M'"}],"mark":{"type":"text","dy":-12},"encoding":{"y":{"datum":1000},"text":{"field":"label"}}},
{"data":{"name":"dates"},"transform":[{"filter":"datum.q=='BL'&&datum.depth=='20M'"}],"mark":{"type":"rule","color":"black","strokeWidth":2.5},"encoding":{"y":{"datum":1000},"y2":{"datum":1120}}}
]}
]}]},
{"title":{"text":"1978","offset":-86,"fontSize":28,"font":"Liberation Sans","frame":"bounds","anchor":"middle","dx":21,"baseline":"alphabetic"},
"spacing":32,"bounds":"flush",
"hconcat":[
{"width":103,"height":413,"title":{"text":"0M","dx":5},
"encoding":{"x":{"field":"day","type":"quantitative","scale":{"domain":[-3.83,18],"nice":false,"zero":false},"axis":{"values":[0,4.5,9,13.5,18],"title":null,"labelExpr":"datum.value==0||datum.value==18?datum.label:''"}}},
"layer":[
{"data":{"name":"pts"},"transform":[{"filter":"datum.q=='BR'&&datum.depth=='0M'"}],"mark":{"type":"line","color":"black","strokeWidth":2.7},"encoding":{"y":{"field":"cells","type":"quantitative","scale":{"type":"log","domain":[1000,3270000],"nice":false},"axis":{"values":[1000,10000,100000,1000000,2000000,3000000],"title":null,"labelFontSize":{"condition":{"test":"datum.value>1000000","value":1},"value":20},"labelExpr":"datum.value==1000?'10³':datum.value==10000?'10⁴':datum.value==100000?'10⁵':datum.value==1000000?'10⁶':''"}},"detail":{"field":"taxon"}}},
{"data":{"name":"pts"},"transform":[{"filter":"datum.q=='BR'&&datum.depth=='0M'"}],"mark":{"type":"point","filled":true,"opacity":1,"color":"black","size":70},"encoding":{"y":{"field":"cells","type":"quantitative"},"shape":{"field":"taxon","type":"nominal","scale":{"domain":["a","b","c","d"],"range":["circle","square","triangle-down","diamond"]},"legend":null}}},
{"data":{"name":"dates"},"transform":[{"filter":"datum.q=='BR'&&datum.depth=='0M'"}],"mark":{"type":"text","dy":-12},"encoding":{"y":{"datum":1000},"text":{"field":"label"}}},
{"data":{"name":"months"},"transform":[{"filter":"datum.q=='BR'&&datum.depth=='0M'"}],"mark":{"type":"text","dy":-35,"fontSize":17},"encoding":{"y":{"datum":1000},"text":{"field":"label"}}},
{"data":{"name":"dates"},"transform":[{"filter":"datum.q=='BR'&&datum.depth=='0M'"}],"mark":{"type":"rule","color":"black","strokeWidth":2.5},"encoding":{"y":{"datum":1000},"y2":{"datum":1120}}}
]},
{"width":85,"height":413,"title":{"text":"5M","dx":-24},
"encoding":{"x":{"field":"day","type":"quantitative","scale":{"domain":[0,18],"nice":false,"zero":false},"axis":{"values":[0,4.5,9,13.5,18],"title":null,"labelExpr":"datum.value==0||datum.value==18?datum.label:''"}}},
"layer":[
{"data":{"name":"pts"},"transform":[{"filter":"datum.q=='BR'&&datum.depth=='5M'"}],"mark":{"type":"line","color":"black","strokeWidth":2.7},"encoding":{"y":{"field":"cells","type":"quantitative","scale":{"type":"log","domain":[1000,3270000],"nice":false},"axis":null},"detail":{"field":"taxon"}}},
{"data":{"name":"pts"},"transform":[{"filter":"datum.q=='BR'&&datum.depth=='5M'"}],"mark":{"type":"point","filled":true,"opacity":1,"color":"black","size":70},"encoding":{"y":{"field":"cells","type":"quantitative"},"shape":{"field":"taxon","type":"nominal","scale":{"domain":["a","b","c","d"],"range":["circle","square","triangle-down","diamond"]},"legend":null}}},
{"data":{"name":"dates"},"transform":[{"filter":"datum.q=='BR'&&datum.depth=='5M'"}],"mark":{"type":"text","dy":-12},"encoding":{"y":{"datum":1000},"text":{"field":"label"}}},
{"data":{"name":"months"},"transform":[{"filter":"datum.q=='BR'&&datum.depth=='5M'"}],"mark":{"type":"text","dy":-35,"fontSize":17},"encoding":{"y":{"datum":1000},"text":{"field":"label"}}},
{"data":{"name":"dates"},"transform":[{"filter":"datum.q=='BR'&&datum.depth=='5M'"}],"mark":{"type":"rule","color":"black","strokeWidth":2.5},"encoding":{"y":{"datum":1000},"y2":{"datum":1120}}}
]},
{"width":85,"height":413,"title":{"text":"10M","dx":-29},
"encoding":{"x":{"field":"day","type":"quantitative","scale":{"domain":[0,18],"nice":false,"zero":false},"axis":{"values":[0,4.5,9,13.5,18],"title":null,"labelExpr":"datum.value==0||datum.value==18?datum.label:''"}}},
"layer":[
{"data":{"name":"pts"},"transform":[{"filter":"datum.q=='BR'&&datum.depth=='10M'"}],"mark":{"type":"line","color":"black","strokeWidth":2.7},"encoding":{"y":{"field":"cells","type":"quantitative","scale":{"type":"log","domain":[1000,3270000],"nice":false},"axis":null},"detail":{"field":"taxon"}}},
{"data":{"name":"pts"},"transform":[{"filter":"datum.q=='BR'&&datum.depth=='10M'"}],"mark":{"type":"point","filled":true,"opacity":1,"color":"black","size":70},"encoding":{"y":{"field":"cells","type":"quantitative"},"shape":{"field":"taxon","type":"nominal","scale":{"domain":["a","b","c","d"],"range":["circle","square","triangle-down","diamond"]},"legend":null}}},
{"data":{"name":"dates"},"transform":[{"filter":"datum.q=='BR'&&datum.depth=='10M'"}],"mark":{"type":"text","dy":-12},"encoding":{"y":{"datum":1000},"text":{"field":"label"}}},
{"data":{"name":"months"},"transform":[{"filter":"datum.q=='BR'&&datum.depth=='10M'"}],"mark":{"type":"text","dy":-35,"fontSize":17},"encoding":{"y":{"datum":1000},"text":{"field":"label"}}},
{"data":{"name":"dates"},"transform":[{"filter":"datum.q=='BR'&&datum.depth=='10M'"}],"mark":{"type":"rule","color":"black","strokeWidth":2.5},"encoding":{"y":{"datum":1000},"y2":{"datum":1120}}}
]},
{"width":28,"height":413,"title":{"text":"15M"},
"encoding":{"x":{"field":"day","type":"quantitative","scale":{"domain":[0,6],"nice":false,"zero":false},"axis":{"values":[0,3,6],"title":null,"labelExpr":"datum.value==0||datum.value==6?datum.label:''"}}},
"layer":[
{"data":{"name":"pts"},"transform":[{"filter":"datum.q=='BR'&&datum.depth=='15M'"}],"mark":{"type":"line","color":"black","strokeWidth":2.7},"encoding":{"y":{"field":"cells","type":"quantitative","scale":{"type":"log","domain":[1000,3270000],"nice":false},"axis":null},"detail":{"field":"taxon"}}},
{"data":{"name":"pts"},"transform":[{"filter":"datum.q=='BR'&&datum.depth=='15M'"}],"mark":{"type":"point","filled":true,"opacity":1,"color":"black","size":70},"encoding":{"y":{"field":"cells","type":"quantitative"},"shape":{"field":"taxon","type":"nominal","scale":{"domain":["a","b","c","d"],"range":["circle","square","triangle-down","diamond"]},"legend":null}}},
{"data":{"name":"dates"},"transform":[{"filter":"datum.q=='BR'&&datum.depth=='15M'"}],"mark":{"type":"text","dy":-12},"encoding":{"y":{"datum":1000},"text":{"field":"label"}}},
{"data":{"name":"months"},"transform":[{"filter":"datum.q=='BR'&&datum.depth=='15M'"}],"mark":{"type":"text","dy":-35,"fontSize":17},"encoding":{"y":{"datum":1000},"text":{"field":"label"}}},
{"data":{"name":"dates"},"transform":[{"filter":"datum.q=='BR'&&datum.depth=='15M'"}],"mark":{"type":"rule","color":"black","strokeWidth":2.5},"encoding":{"y":{"datum":1000},"y2":{"datum":1120}}}
]},
{"width":85,"height":413,"title":{"text":"20M","dx":4},
"encoding":{"x":{"field":"day","type":"quantitative","scale":{"domain":[0,18],"nice":false,"zero":false},"axis":{"values":[0,4.5,9,13.5,18],"title":null,"labelExpr":"datum.value==0||datum.value==18?datum.label:''"}}},
"layer":[
{"data":{"name":"pts"},"transform":[{"filter":"datum.q=='BR'&&datum.depth=='20M'"}],"mark":{"type":"line","color":"black","strokeWidth":2.7},"encoding":{"y":{"field":"cells","type":"quantitative","scale":{"type":"log","domain":[1000,3270000],"nice":false},"axis":null},"detail":{"field":"taxon"}}},
{"data":{"name":"pts"},"transform":[{"filter":"datum.q=='BR'&&datum.depth=='20M'"}],"mark":{"type":"point","filled":true,"opacity":1,"color":"black","size":70},"encoding":{"y":{"field":"cells","type":"quantitative"},"shape":{"field":"taxon","type":"nominal","scale":{"domain":["a","b","c","d"],"range":["circle","square","triangle-down","diamond"]},"legend":null}}},
{"data":{"name":"dates"},"transform":[{"filter":"datum.q=='BR'&&datum.depth=='20M'"}],"mark":{"type":"text","dy":-12},"encoding":{"y":{"datum":1000},"text":{"field":"label"}}},
{"data":{"name":"months"},"transform":[{"filter":"datum.q=='BR'&&datum.depth=='20M'"}],"mark":{"type":"text","dy":-35,"fontSize":17},"encoding":{"y":{"datum":1000},"text":{"field":"label"}}},
{"data":{"name":"dates"},"transform":[{"filter":"datum.q=='BR'&&datum.depth=='20M'"}],"mark":{"type":"rule","color":"black","strokeWidth":2.5},"encoding":{"y":{"datum":1000},"y2":{"datum":1120}}}
]},
{"width":85,"height":413,"title":{"text":"25M","dx":-13},
"encoding":{"x":{"field":"day","type":"quantitative","scale":{"domain":[0,18],"nice":false,"zero":false},"axis":{"values":[0,4.5,9,13.5,18],"title":null,"labelExpr":"datum.value==0||datum.value==18?datum.label:''"}}},
"layer":[
{"data":{"name":"pts"},"transform":[{"filter":"datum.q=='BR'&&datum.depth=='25M'"}],"mark":{"type":"line","color":"black","strokeWidth":2.7},"encoding":{"y":{"field":"cells","type":"quantitative","scale":{"type":"log","domain":[1000,3270000],"nice":false},"axis":null},"detail":{"field":"taxon"}}},
{"data":{"name":"pts"},"transform":[{"filter":"datum.q=='BR'&&datum.depth=='25M'"}],"mark":{"type":"point","filled":true,"opacity":1,"color":"black","size":70},"encoding":{"y":{"field":"cells","type":"quantitative"},"shape":{"field":"taxon","type":"nominal","scale":{"domain":["a","b","c","d"],"range":["circle","square","triangle-down","diamond"]},"legend":null}}},
{"data":{"name":"dates"},"transform":[{"filter":"datum.q=='BR'&&datum.depth=='25M'"}],"mark":{"type":"text","dy":-12},"encoding":{"y":{"datum":1000},"text":{"field":"label"}}},
{"data":{"name":"months"},"transform":[{"filter":"datum.q=='BR'&&datum.depth=='25M'"}],"mark":{"type":"text","dy":-35,"fontSize":17},"encoding":{"y":{"datum":1000},"text":{"field":"label"}}},
{"data":{"name":"dates"},"transform":[{"filter":"datum.q=='BR'&&datum.depth=='25M'"}],"mark":{"type":"rule","color":"black","strokeWidth":2.5},"encoding":{"y":{"datum":1000},"y2":{"datum":1120}}}
]}
]}
]}
]}],
"config":{
"view":{"stroke":null},
"text":{"font":"Liberation Sans","fontWeight":"bold","fontSize":19,"color":"black","baseline":"alphabetic","align":"center"},
"title":{"font":"DejaVu Sans","fontWeight":"bold","fontSize":19,"color":"black","offset":-19,"baseline":"alphabetic","frame":"group","anchor":"middle"},
"axisX":{"domainColor":"black","domainWidth":2.5,"tickColor":"black","tickWidth":2.5,"tickSize":6,"labelFont":"Liberation Sans","labelFontWeight":"bold","labelFontSize":19,"labelColor":"black","labelPadding":7,"labelOverlap":false,"labelFlush":false,"grid":false},
"axisY":{"domainColor":"black","domainWidth":3,"tickColor":"black","tickWidth":2.5,"tickSize":-7,"labelFont":"Liberation Sans","labelFontWeight":"bold","labelFontSize":20,"labelColor":"black","labelPadding":15,"labelOverlap":false,"grid":false}
}
}
